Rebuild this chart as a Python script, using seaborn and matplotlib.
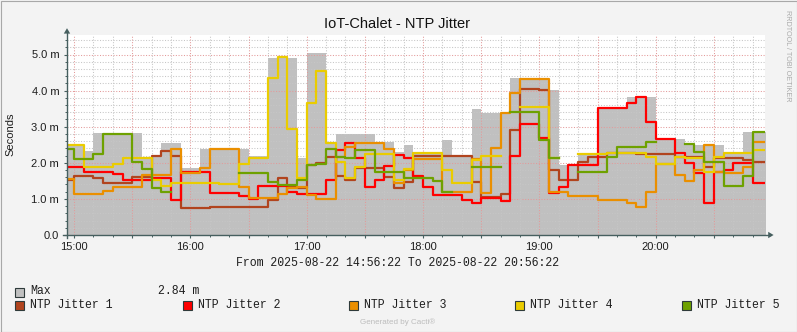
import numpy as np
import pandas as pd
import matplotlib
matplotlib.use("Agg")
import matplotlib.pyplot as plt
from matplotlib.lines import Line2D
from matplotlib.patches import Polygon, Rectangle
import seaborn as sns

nan = np.nan

# 5-minute consolidation bins, minutes relative to 15:00 (first bin starts 14:55)
bin_start = list(range(-5, 360, 5))

max_vals = [2.50, 2.50, 2.33, 2.82, 2.82, 2.82, 2.82, 2.82, 2.15, 2.15, 2.55, 2.55, 1.85,
            1.85, 2.37, 2.37, 2.37, 2.37, 2.37, 2.20, 2.20, 4.89, 4.89, 4.89, 2.12,
            5.03, 5.03, 2.56, 2.79, 2.79, 2.79, 2.79, 2.55, 2.59, 2.30, 2.49, 2.26,
            2.26, 2.26, 2.63, 2.20, 2.20, 3.49, 3.39, 3.39, 3.39, 4.34, 4.34, 4.34,
            4.34, 4.03, 1.94, 1.94, 2.26, 2.26, 3.53, 3.53, 3.53, 3.83, 3.83, 3.83,
            2.66, 2.66, 2.66, 2.49, 2.49, 2.49, 2.49, 2.30, 2.30, 2.84, 2.84, 2.84]

jitter1 = [1.52, 1.64, 1.64, 1.59, 1.43, 1.43, 1.43, 1.62, 1.62, 2.20, 2.33, 2.20, 0.75,
           0.75, 0.75, 0.78, 0.78, 0.78, 0.78, 0.78, 0.78, 0.97, 1.59, 1.34, 1.30,
           1.94, 2.00, 2.15, 1.64, 1.52, 1.85, 1.85, 1.85, 1.60, 1.29, 1.48, 2.20,
           2.20, 2.20, 2.20, 2.20, 2.20, 1.46, 1.06, 1.06, 1.14, 2.90, 4.04, 4.04,
           4.02, 1.80, 1.52, 1.52, 2.03, 2.17, 2.17, 2.26, 2.26, 2.26, 2.24, 2.23,
           2.23, 2.23, 2.17, 2.17, 2.17, 1.89, 2.12, 2.12, 2.12, 2.08, 2.03, 2.03]

jitter2 = [1.89, 1.89, 1.75, 1.75, 1.75, 1.68, 1.52, 1.52, 1.52, 1.58, 1.58, 0.97, 1.75,
           1.75, 1.75, 1.15, 1.15, 1.15, 1.08, 1.00, 1.36, 1.36, 1.36, 1.20, 1.14,
           1.14, 1.14, 1.52, 2.35, 2.56, 2.12, 1.34, 1.52, 1.91, 2.22, 2.12, 1.63,
           1.34, 1.11, 1.11, 1.11, 0.97, 0.90, 1.02, 1.02, 0.95, 2.19, 3.07, 3.07,
           2.68, 1.15, 1.34, 1.94, 1.94, 1.94, 3.51, 3.51, 3.51, 3.67, 3.83, 3.14,
           2.65, 2.65, 2.26, 1.99, 1.73, 0.90, 1.75, 1.80, 1.99, 1.99, 1.45, 1.45]

jitter3 = [1.55, 1.14, 1.14, 1.14, 1.23, 1.32, 1.32, 1.32, 1.65, 1.65, 1.65, 2.37, 1.71,
           1.71, 1.85, 2.37, 2.37, 2.37, 1.34, 1.02, 1.02, 1.02, 1.13, 1.31, 1.34,
           1.11, 0.99, 0.99, 2.17, 2.45, 2.54, 2.54, 2.54, 2.37, 1.43, 1.80, 2.10,
           2.10, 2.10, 1.20, 1.20, 1.20, 2.10, 1.15, 2.40, 3.39, 3.94, 4.33, 4.33,
           4.33, 1.20, 1.20, 1.08, 1.08, 1.08, 0.98, 0.98, 0.98, 0.90, 0.77, 1.20,
           1.97, 1.97, 1.66, 1.50, 1.80, 2.49, 1.75, 1.71, 1.71, 1.87, 2.58, 2.58]

jitter4 = [2.50, 2.50, 1.89, 1.89, 1.89, 1.98, 2.12, 2.12, 2.12, 1.52, 1.37, 1.45, 1.45,
           1.45, 1.45, 1.45, 1.41, 1.41, 1.97, 2.12, 2.12, 4.34, 4.92, 2.93, 1.57,
           3.65, 4.55, 2.56, 2.03, 1.57, 1.89, 2.24, 2.24, 2.24, 1.52, 1.82, 2.28,
           2.28, 2.28, 1.80, 1.43, 1.43, 2.08, 2.20, 2.20, nan, nan, 3.55, 3.55,
           3.55, 2.12, nan, nan, 2.25, 2.25, 2.25, 2.28, 2.28, 2.28, 2.28, 2.15,
           1.97, 1.97, 2.17, 2.12, 2.12, 1.75, 2.15, 2.28, 2.28, 2.28, 2.35, 2.35]

jitter5 = [2.37, 2.10, 2.10, 2.23, 2.80, 2.80, 2.80, 2.03, 1.83, 1.31, 1.20, nan, nan,
           nan, nan, nan, nan, nan, 1.73, 1.73, 1.73, 1.48, 1.39, 1.39, 1.52,
           1.94, 1.98, 2.37, 2.17, 2.12, 2.35, 2.35, 1.75, 1.75, 1.75, 1.59, 1.59,
           1.59, 1.50, 1.20, nan, nan, 1.87, 1.87, 1.87, nan, 3.42, 3.42, 3.42,
           2.63, 2.12, nan, nan, 1.75, 1.75, 1.75, 2.17, 2.45, 2.45, 2.45, 2.58,
           nan, nan, nan, 2.51, 2.31, 2.03, 2.03, 1.37, 1.37, 1.64, 2.84, 2.84]

series_names = ["NTP Jitter 1", "NTP Jitter 2", "NTP Jitter 3", "NTP Jitter 4", "NTP Jitter 5"]
series_colors = ["#B1441E", "#FF0000", "#EA8F00", "#EACC00", "#6EA100"]
series_values = [jitter1, jitter2, jitter3, jitter4, jitter5]

y_ticks = [0, 1, 2, 3, 4, 5]
y_tick_labels = ["0.0", "1.0 m", "2.0 m", "3.0 m", "4.0 m", "5.0 m"]
hour_ticks = [0, 60, 120, 180, 240, 300]
hour_labels = ["15:00", "16:00", "17:00", "18:00", "19:00", "20:00"]

title = "IoT-Chalet - NTP Jitter"
period = "From 2025-08-22 14:56:22 To 2025-08-22 20:56:22"
max_label = "Max"
max_current = "2.84 m"

# ---------------------------------------------------------------- layout
W, H = 797, 332
plt.rcParams["font.family"] = ["Liberation Sans", "DejaVu Sans"]
BG = "#F3F3F3"
AXIS = "#465F5F"

fig = plt.figure(figsize=(W / 100, H / 100), dpi=100, facecolor=BG)


def fx(px):
    return px / W


def fy(py):
    return 1 - py / H


L, R, T, B = 67, 765, 35, 235
ax = fig.add_axes([fx(L), fy(B), fx(R) - fx(L), fy(T) - fy(B)])
ax.set_facecolor("white")

t_from = -(3 + 38 / 60)
t_to = 360 + t_from
y_top = (B - T) / 36.1

# grey "Max" area
edges = bin_start + [bin_start[-1] + 5]
ax.fill_between(edges, 0, max_vals + [max_vals[-1]], step="post",
                color="#C0C0C0", linewidth=0, zorder=1)

# dotted grid, red-ish for the major lines
for i in range(1, 28):
    v = i * 0.2
    major = i % 5 == 0
    ax.axhline(v, color="#E39A9A" if major else "#C6C6C6", lw=0.75,
               ls=(0, (1, 1.6)), zorder=1.5)
for m in range(0, 360, 10):
    major = m % 30 == 0
    ax.axvline(m, color="#E39A9A" if major else "#C6C6C6", lw=0.75,
               ls=(0, (1, 1.6)), zorder=1.5)

# step lines, broken where data is missing
rows = []
for name, vals in zip(series_names, series_values):
    seg = 0
    gap = True
    for k, v in enumerate(vals):
        if np.isnan(v):
            gap = True
            continue
        if gap:
            seg += 1
            gap = False
        rows.append((bin_start[k], v, name, f"{name}/{seg}"))
        if k == len(vals) - 1 or np.isnan(vals[k + 1]):
            rows.append((bin_start[k] + 5, v, name, f"{name}/{seg}"))
df = pd.DataFrame(rows, columns=["minute", "value", "series", "segment"])

sns.lineplot(data=df, x="minute", y="value", hue="series", units="segment",
             estimator=None, hue_order=series_names,
             palette=dict(zip(series_names, series_colors)),
             drawstyle="steps-post", linewidth=1.6, legend=False, ax=ax, zorder=3)

ax.set_xlim(t_from, t_to)
ax.set_ylim(0, y_top)
ax.set_xlabel("")
ax.set_ylabel("")
for s in ax.spines.values():
    s.set_visible(False)

ax.set_xticks(list(range(0, 360, 30)))
ax.set_xticklabels([hour_labels[hour_ticks.index(m)] if m in hour_ticks else ""
                    for m in range(0, 360, 30)])
ax.set_xticks(list(range(0, 360, 10)), minor=True)
ax.set_yticks(y_ticks)
ax.set_yticklabels(y_tick_labels)
ax.set_yticks([i * 0.2 for i in range(28)], minor=True)
ax.tick_params(axis="both", which="major", length=2.2, width=0.8, color=AXIS,
               labelsize=8, labelcolor="#1E1E1E")
ax.tick_params(axis="both", which="minor", length=1.4, width=0.7, color=AXIS)
ax.tick_params(axis="y", which="major", pad=3.4)
ax.tick_params(axis="x", which="major", pad=2.6)

# axis lines with arrow heads
fig.add_artist(Line2D([fx(L), fx(L)], [fy(238), fy(31)], color=AXIS, lw=1.0))
fig.add_artist(Line2D([fx(63), fx(770)], [fy(B), fy(B)], color=AXIS, lw=1.0))
fig.add_artist(Polygon([(fx(63.8), fy(33.6)), (fx(70.2), fy(33.6)), (fx(67), fy(28.2))],
                       closed=True, color=AXIS, lw=0))
fig.add_artist(Polygon([(fx(768.2), fy(231.8)), (fx(768.2), fy(238.2)), (fx(773.6), fy(B))],
                       closed=True, color=AXIS, lw=0))

# texts
fig.text(fx(397.5), fy(28.3), title, ha="center", va="baseline", fontsize=10.5,
         color="#111111")
fig.text(fx(10.5), fy(134), "Seconds", ha="center", va="center", rotation=90,
         fontsize=8, color="#1E1E1E")
fig.text(fx(787.5), fy(56), "RRDTOOL / TOBI OETIKER", ha="center", va="center",
         rotation=270, fontsize=5.2, color="#ABABAB")

mono = ["Liberation Mono", "DejaVu Sans Mono"]
fig.text(fx(398), fy(266.5), period, ha="center", va="baseline", fontsize=8.3,
         family=mono, color="#1E1E1E")


def swatch(x, y, color):
    fig.add_artist(Rectangle((fx(x), fy(y + 9)), 9 / W, 9 / H, facecolor=color,
                             edgecolor="#2E3A3A", lw=0.8))


swatch(15, 287.5, "#C0C0C0")
fig.text(fx(30), fy(294.5), max_label, ha="left", va="baseline", fontsize=8.3,
         family=mono, color="#1E1E1E")
fig.text(fx(158), fy(294.5), max_current, ha="left", va="baseline", fontsize=8.3,
         family=mono, color="#1E1E1E")

legend_x = [15, 182.5, 349, 515, 682]
for x0, name, col in zip(legend_x, series_names, series_colors):
    swatch(x0, 301, col)
    fig.text(fx(x0 + 15), fy(308.5), name, ha="left", va="baseline", fontsize=8.3,
             family=mono, color="#1E1E1E")

fig.text(fx(398), fy(324), "Generated by Cacti®", ha="center", va="baseline",
         fontsize=5.8, color="#BDBDBD")

# image frame
fig.add_artist(Rectangle((0.5 / W, 0.5 / H), (W - 1) / W, (H - 1) / H, fill=False,
                         edgecolor="#A8A8A8", lw=0.8))

fig.savefig("out.png", dpi=100, facecolor=BG)
